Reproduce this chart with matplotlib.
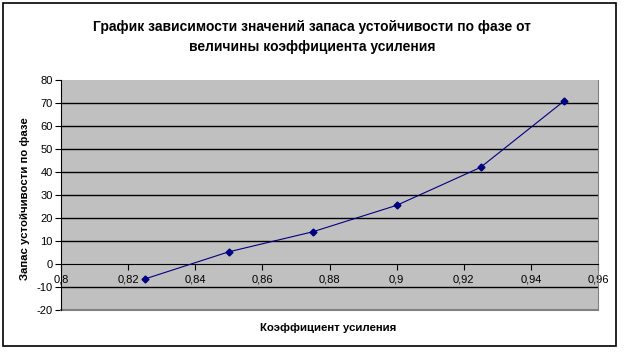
import matplotlib
matplotlib.use("Agg")
import matplotlib.pyplot as plt
from matplotlib.patches import Rectangle
from matplotlib.ticker import FuncFormatter

# data
gain = [0.825, 0.85, 0.875, 0.9, 0.925, 0.95]
phase_margin = [-6.5, 5.3, 14.0, 25.5, 42.0, 71.0]

x_ticks = [0.8, 0.82, 0.84, 0.86, 0.88, 0.9, 0.92, 0.94, 0.96]
y_ticks = [-20, -10, 0, 10, 20, 30, 40, 50, 60, 70, 80]

title = "График зависимости значений запаса устойчивости по фазе от\nвеличины коэффициента усиления"
x_label = "Коэффициент усиления"
y_label = "Запас устойчивости по фазе"

plt.rcParams['font.family'] = ['Liberation Sans', 'DejaVu Sans']

fig = plt.figure(figsize=(6.24, 3.54), dpi=100)
W, H = 624, 354

# chart area frame
fig.patches.append(Rectangle((3 / W, 1 - 346 / H), 613 / W, 343 / H,
                             transform=fig.transFigure, fill=False,
                             edgecolor='black', linewidth=1.2))

ax = fig.add_axes([61 / W, 1 - 310 / H, 537 / W, 230 / H])
ax.set_facecolor('#c0c0c0')
ax.set_xlim(0.8, 0.96)
ax.set_ylim(-20, 80)

for y in y_ticks[1:-1]:
    if y != 0:
        ax.axhline(y, color='black', linewidth=1.0, zorder=1)

ax.plot(gain, phase_margin, color='#000080', linewidth=0.8,
        marker='D', markersize=3.5, zorder=3)

# x axis crosses at y = 0
ax.spines['bottom'].set_position(('data', 0))
ax.spines['bottom'].set_color('black')
ax.spines['left'].set_color('black')
ax.spines['top'].set_visible(False)
ax.spines['right'].set_color('#808080')
ax.add_line(plt.Line2D([0, 1], [0, 0], transform=ax.transAxes,
                       color='#808080', linewidth=1.5, clip_on=False))

ax.set_xticks(x_ticks)
ax.set_yticks(y_ticks)
comma = FuncFormatter(lambda v, p: ('%g' % v).replace('.', ','))
ax.xaxis.set_major_formatter(comma)
ax.yaxis.set_major_formatter(FuncFormatter(lambda v, p: '%d' % v))
ax.tick_params(axis='x', direction='out', length=4, labelsize=8, pad=3.5)
ax.tick_params(axis='y', direction='out', length=4, labelsize=8, pad=2)

fig.text(312 / W, 1 - 37 / H, title, ha='center', va='center',
         fontsize=10, fontweight='bold', linespacing=1.5)
fig.text(328 / W, 1 - 328 / H, x_label, ha='center', va='center',
         fontsize=8.2, fontweight='bold')
fig.text(25 / W, 1 - 199 / H, y_label, ha='center', va='center',
         fontsize=8.2, fontweight='bold', rotation=90)

fig.savefig('out.png', dpi=100)
